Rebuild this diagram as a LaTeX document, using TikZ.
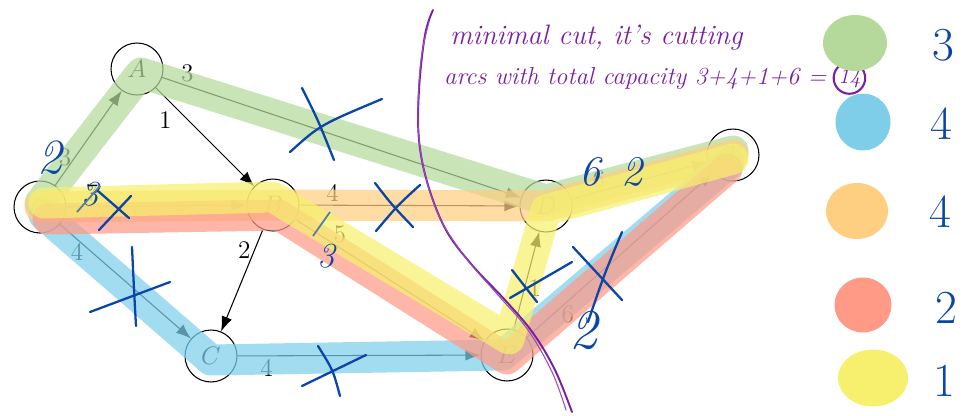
\documentclass[tikz,border=0pt]{standalone}
\usepackage{tikz}
\usetikzlibrary{arrows.meta,positioning,calc,shapes.geometric}
\definecolor{HlGreen}{HTML}{B4D99A}
\definecolor{HlBlue}{HTML}{7ECEEA}
\definecolor{HlOrange}{HTML}{FECF80}
\definecolor{HlRed}{HTML}{FE9A86}
\definecolor{HlYellow}{HTML}{F7F06E}
\definecolor{PenBlue}{HTML}{0B45A8}
\definecolor{PenPurple}{HTML}{7A1FA2}
\tikzset{
  vert/.style={circle, draw=black, line width=0.6pt, minimum size=1.04cm, inner sep=0pt, font=\Large},
  arc/.style={-{Latex[length=3mm,width=2.2mm]}, line width=0.6pt},
  caplabel/.style={font=\Large, inner sep=2pt},
  hl/.style={line width=0.62cm, line cap=round, line join=round, opacity=0.72},
  pen/.style={draw=PenBlue, line width=1.3pt, line cap=round},
  pennum/.style={text=PenBlue, font=\itshape\fontsize{20}{20}\selectfont},
  note/.style={text=PenPurple, font=\itshape\fontsize{16}{16}\selectfont, anchor=west},
  blob/.style={ellipse, inner sep=0pt}
}
\begin{document}
\begin{tikzpicture}[x=0.02cm, y=-0.02cm]
\useasboundingbox (0,0) rectangle (975,416);
% vertices
\node[vert] (O) at (40,207) {$O$};
\node[vert] (A) at (137,69) {$A$};
\node[vert] (B) at (273,205) {$B$};
\node[vert] (C) at (211,356) {$C$};
\node[vert] (D) at (546,206) {$D$};
\node[vert] (E) at (507,355) {$E$};
\node[vert] (T) at (733,155) {$T$};
% arcs with capacities
\draw[arc] (O) -- (A) node[caplabel, pos=.3, left] {3};
\draw[arc] (O) -- (B) node[caplabel, pos=.14, above] {7};
\draw[arc] (O) -- (C) node[caplabel, pos=.13, below] {4};
\draw[arc] (A) -- (B) node[caplabel, pos=.2, below left=0pt and 0pt] {1};
\draw[arc] (A) -- (D) node[caplabel, pos=.07, above] {3};
\draw[arc] (B) -- (D) node[caplabel, pos=.15, above] {4};
\draw[arc] (B) -- (E) node[caplabel, pos=.2, above right=-2pt and -2pt] {5};
\draw[arc] (B) -- (C) node[caplabel, pos=.2, left] {2};
\draw[arc] (C) -- (E) node[caplabel, pos=.12, below] {4};
\draw[arc] (E) -- (D) node[caplabel, pos=.42, right] {1};
\draw[arc] (E) -- (T) node[caplabel, pos=.22, below] {6};
\draw[arc] (D) -- (T) node[caplabel, pos=.2, above] {6};
% augmenting paths
\draw[hl, HlGreen] ($(O.center)+(0,-4)$) -- ($(A.center)+(4,4)$) -- ($(D.center)+(0,-6)$) -- ($(T.center)+(0,-4)$);
\draw[hl, HlBlue] ($(O.center)+(4,8)$) -- ($(C.center)+(0,4)$) -- ($(E.center)+(-4,0)$) -- ($(T.center)+(-4,8)$);
\draw[hl, HlOrange] (O.center) -- (B.center) -- (D.center) -- (T.center);
\draw[hl, HlRed] ($(O.center)+(8,12)$) -- ($(B.center)+(6,10)$) -- ($(E.center)+(0,4)$) -- ($(T.center)+(-6,14)$);
\draw[hl, HlYellow] ($(O.center)+(4,-4)$) -- ($(B.center)+(0,-8)$) -- ($(E.center)+(2,-16)$) -- ($(D.center)+(0,4)$) -- ($(T.center)+(0,4)$);
% crossed out arcs
\draw[pen] (290,152) .. controls (320,125) .. (382,99);
\draw[pen] (302,88) .. controls (318,120) .. (334,160);
\draw[pen] (98,191) -- (129,218);
\draw[pen] (99,230) -- (131,196);
\draw[pen] (90,312) -- (170,282);
\draw[pen] (132,247) .. controls (134,290) .. (136,326);
\draw[pen] (375,183) .. controls (392,205) .. (413,227);
\draw[pen] (420,185) .. controls (398,205) .. (376,231);
\draw[pen] (302,386) -- (366,355);
\draw[pen] (318,346) .. controls (333,370) .. (340,396);
\draw[pen] (572,262) -- (510,298);
\draw[pen] (512,270) -- (537,302);
\draw[pen] (573,247) -- (622,300);
\draw[pen] (622,232) .. controls (604,275) .. (588,322);
% new capacities
\node[pennum, font=\itshape\fontsize{28}{28}\selectfont] (nOA) at (50,158) {2};
\node[pennum] (nOB) at (90,194) {3};
\draw[draw=PenBlue!60!HlGreen, line width=1pt] (77,212) -- (100,186);
\node[pennum] (nBE) at (326,256) {3};
\draw[draw=PenBlue!60!HlGreen, line width=1pt] (313,236) -- (330,212);
\node[pennum, font=\itshape\fontsize{24}{24}\selectfont] (nDT1) at (590,172) {6};
\node[pennum, font=\itshape\fontsize{24}{24}\selectfont] (nDT2) at (632,172) {2};
\node[pennum, font=\itshape\fontsize{32}{32}\selectfont] (nET) at (584,330) {2};
% minimal cut
\draw[PenPurple, line width=1.1pt, line cap=round] plot[smooth, tension=.6] coordinates {(433,10) (425,35) (419,90) (419,140) (428,185) (446,230) (472,265) (505,300) (533,333) (555,370) (572,412)};
\draw[PenPurple!80, line width=.6pt, line cap=round] plot[smooth, tension=.6] coordinates {(429,22) (421,60) (418,120) (424,170) (440,218) (466,258) (498,295) (528,330) (552,372) (566,410)};
\node[note] (cut1) at (444,38) {minimal cut, it's cutting};
\node[note, font=\itshape\fontsize{14}{14}\selectfont] (cut2) at (438,78) {arcs with total capacity 3+4+1+6 =};
\node[text=PenPurple, font=\itshape\fontsize{13}{13}\selectfont, draw=PenPurple, line width=1.2pt, circle, inner sep=0.3pt, right=0pt of cut2] (total) {14};
% legend
\node[blob, fill=HlGreen, minimum width=1.28cm, minimum height=1.12cm] (lgGreen) at (855,43) {};
\node[blob, fill=HlBlue, minimum width=1.1cm, minimum height=1.14cm] (lgBlue) at (863,122) {};
\node[blob, fill=HlOrange, minimum width=1.24cm, minimum height=1.12cm] (lgOrange) at (857,211) {};
\node[blob, fill=HlRed, minimum width=1.14cm, minimum height=1.1cm] (lgRed) at (863,305) {};
\node[blob, fill=HlYellow, minimum width=1.4cm, minimum height=1.14cm] (lgYellow) at (873,378) {};
\node[pennum, font=\fontsize{27}{27}\selectfont] (vGreen) at (943,45) {3};
\node[pennum, font=\fontsize{27}{27}\selectfont] (vBlue) at (941,124) {4};
\node[pennum, font=\fontsize{27}{27}\selectfont] (vOrange) at (940,212) {4};
\node[pennum, font=\fontsize{27}{27}\selectfont] (vRed) at (946,308) {2};
\node[pennum, font=\fontsize{27}{27}\selectfont] (vYellow) at (944,381) {1};
\end{tikzpicture}
\end{document}
